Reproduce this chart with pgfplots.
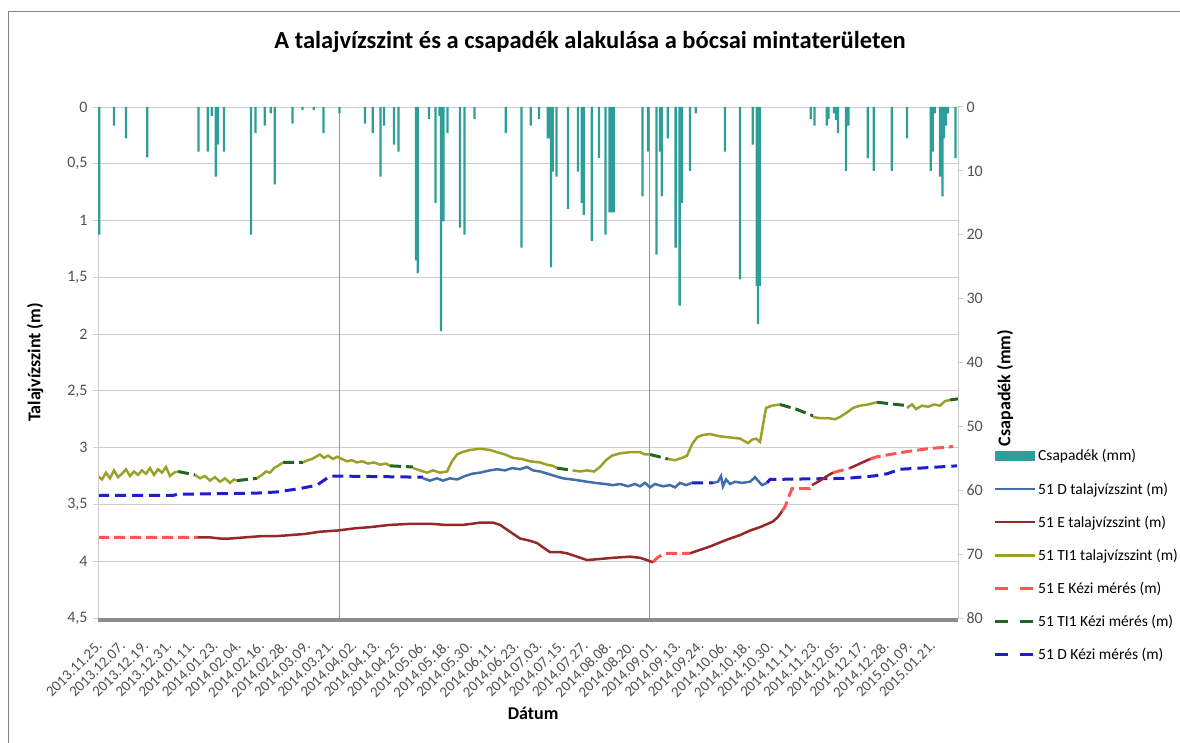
\documentclass[border=0pt]{standalone}
\usepackage{fontspec}
\setmainfont{Carlito}
\usepackage{pgfplots}
\pgfplotsset{compat=1.18}
\definecolor{csap}{RGB}{46,158,153}
\definecolor{dline}{RGB}{64,110,170}
\definecolor{eline}{RGB}{150,40,42}
\definecolor{tline}{RGB}{155,160,40}
\definecolor{ekezi}{RGB}{255,85,85}
\definecolor{tkezi}{RGB}{35,100,35}
\definecolor{dkezi}{RGB}{30,30,205}
\definecolor{gridc}{RGB}{205,205,205}
\definecolor{vlinec}{RGB}{150,150,150}
\definecolor{tickc}{RGB}{80,80,80}
\definecolor{framec}{RGB}{130,130,130}
\definecolor{basec}{RGB}{140,140,140}

\begin{document}
\begin{tikzpicture}[x=1pt,y=1pt]
\useasboundingbox (0,0) rectangle (1180,743);
\draw[framec, line width=1pt] (8,-5) -- (8,731) -- (1190,731);
\node[font=\fontsize{24.5}{29}\selectfont\bfseries] at (590,701) {A talajvízszint és a csapadék alakulása a bócsai mintaterületen};

\begin{axis}[
  at={(98pt,125pt)}, anchor=south west,
  width=860pt, height=511pt, scale only axis,
  xmin=-2, xmax=428, ymin=0, ymax=4.5, y dir=reverse,
  clip mode=individual,
  axis line style={draw=none},
  ytick={0,0.5,...,4.5}, ymajorgrids,
  grid style={gridc, line width=1pt},
  ytick pos=left, tick align=outside, major tick length=5pt,
  ytick style={gridc, line width=1pt},
  xtick={0,11.57,...,416.6},
  xticklabels={2013.11.25.,2013.12.07.,2013.12.19.,2013.12.31.,2014.01.11.,2014.01.23.,2014.02.04.,2014.02.16.,2014.02.28.,2014.03.09.,2014.03.21.,2014.04.02.,2014.04.13.,2014.04.25.,2014.05.06.,2014.05.18.,2014.05.30.,2014.06.11.,2014.06.23.,2014.07.03.,2014.07.15.,2014.07.27.,2014.08.08.,2014.08.20.,2014.09.01.,2014.09.13.,2014.09.24.,2014.10.06.,2014.10.18.,2014.10.30.,2014.11.11.,2014.11.23.,2014.12.05.,2014.12.17.,2014.12.28.,2015.01.09.,2015.01.21.},
  xtick style={draw=none},
  x tick label style={yshift=-18pt, rotate=45, anchor=east, font=\fontsize{15}{17}\selectfont, text=tickc},
  y tick label style={font=\fontsize{16}{18}\selectfont, text=tickc, xshift=-2pt},
  extra x ticks={118.75,273.75}, extra x tick labels={},
  extra x tick style={grid=major, major grid style={vlinec, line width=1pt}, tick style={draw=none}},
  ylabel={Talajvízszint (m)},
  ylabel style={font=\fontsize{18}{21}\selectfont\bfseries, at={(axis description cs:-0.073,0.5)}, anchor=center},
  xlabel={Dátum},
  xlabel style={font=\fontsize{18}{21}\selectfont\bfseries, at={(axis description cs:0.506,-0.186)}, anchor=center},
  unbounded coords=jump,
  /pgf/number format/use comma,
  /pgf/number format/assume math mode=true,
]
% 51 TI1 Kezi meres (green dashed, in the gaps)
\addplot[forget plot, tkezi, line width=3pt, dash pattern=on 11pt off 5pt] coordinates {
(38,3.21)(46.5,3.24) (46.6,nan)
(67.5,3.29)(77.5,3.27) (77.6,nan)
(90.5,3.13)(100.5,3.13) (100.6,nan)
(144,3.16)(155.5,3.17) (155.6,nan)
(227.5,3.18)(235.5,3.20) (235.6,nan)
(274,3.06)(283,3.10) (283.1,nan)
(339,2.62)(347,2.66)(355.5,2.72) (355.6,nan)
(387.5,2.60)(402.5,2.63) (402.6,nan)
(424,2.58)(428,2.57)
};
% 51 D Kezi meres
\addplot[forget plot, dkezi, line width=3pt, dash pattern=on 11pt off 6pt] coordinates {
(-2,3.42)(35.5,3.42)(38,3.41)(77.5,3.40)(87.5,3.39)(99,3.36)(107.5,3.33)(114,3.25)(117.5,3.25)(160.5,3.26) (160.6,nan)
(295,3.31)(305.5,3.31) (305.6,nan)
(332.5,3.31)(334,3.28)(372.5,3.27)(385.5,3.25)(392.5,3.23)(399,3.19)(409,3.18)(427.5,3.16)
};
% 51 E Kezi meres
\addplot[forget plot, ekezi, line width=3pt, dash pattern=on 11pt off 5pt] coordinates {
(-2,3.79)(48,3.79) (48.1,nan)
(275.5,4.01)(277.5,3.97)(281.5,3.93)(294,3.93) (294.1,nan)
(340,3.56)(341.5,3.52)(345,3.36)(354,3.36)(355,3.33) (355.1,nan)
(365.5,3.22)(374,3.18) (374.1,nan)
(384,3.10)(387.5,3.08)(400.5,3.04)(412.5,3.01)(425.5,2.99)
};
% 51 TI1 talajvizszint
\addplot[forget plot, tline, line width=2.5pt] coordinates {
(-2,3.25)(0,3.28)(2,3.22)(4,3.27)(6,3.20)(8,3.26)(10,3.23)(12,3.19)(14,3.25)(16,3.21)(18,3.24)(20,3.20)(22,3.23)(24,3.18)(26,3.24)(28,3.19)(30,3.22)(32,3.17)(34,3.25)(36,3.22)(38,3.21) (38.1,nan)
(46.5,3.24)(49,3.27)(51.5,3.25)(54,3.29)(56.5,3.26)(59,3.30)(61.5,3.27)(64,3.31)(66,3.28)(67.5,3.29) (67.6,nan)
(77.5,3.27)(80,3.24)(82,3.21)(84,3.22)(86,3.18)(88,3.16)(90.5,3.13) (90.6,nan)
(100.5,3.13)(103,3.11)(105,3.10)(107,3.08)(109,3.06)(111,3.09)(113,3.07)(115.5,3.10)(117.5,3.08)(120,3.10)(122.5,3.12)(125,3.11)(127.5,3.13)(130,3.12)(133,3.14)(136,3.13)(139,3.15)(142,3.14)(144,3.16) (144.1,nan)
(155.5,3.18)(159,3.20)(162.5,3.22)(165.5,3.20)(169,3.22)(172.5,3.21)(175,3.12)(177.5,3.06)(180,3.04)(184,3.02)(189,3.01)(194,3.02)(197.5,3.04)(201.5,3.06)(205.5,3.09)(210,3.10)(214,3.12)(219,3.13)(222.5,3.15)(225.5,3.16)(227.5,3.18) (227.6,nan)
(235.5,3.20)(239,3.21)(242.5,3.20)(246,3.21)(249,3.17)(252,3.11)(255,3.07)(259,3.05)(264,3.04)(269,3.04)(271.5,3.06)(274,3.06) (274.1,nan)
(283,3.10)(286.5,3.11)(290,3.09)(292.5,3.07)(295,2.97)(297.5,2.91)(300,2.89)(304,2.88)(309,2.90)(314,2.91)(319,2.92)(323,2.96)(325,2.93)(327,2.92)(329,2.95)(330.5,2.80)(332,2.65)(335,2.63)(339,2.62) (339.1,nan)
(355.5,2.73)(359,2.74)(363,2.74)(366.5,2.75)(369,2.73)(372.5,2.69)(375.5,2.65)(379,2.63)(383,2.62)(387.5,2.60) (387.6,nan)
(402.5,2.65)(405,2.62)(407,2.66)(410,2.63)(413,2.64)(416,2.62)(419,2.63)(421.5,2.59)(424,2.58)
};
% 51 D talajvizszint
\addplot[forget plot, dline, line width=2.5pt] coordinates {
(160.5,3.27)(164,3.29)(167.5,3.27)(170.5,3.29)(174,3.27)(177.5,3.28)(181.5,3.25)(185,3.23)(189,3.22)(194,3.20)(197.5,3.19)(201.5,3.20)(205,3.18)(209,3.19)(212.5,3.17)(215.5,3.20)(219,3.21)(223,3.23)(226.5,3.25)(230.5,3.27)(235,3.28)(239,3.29)(242.5,3.30)(246.5,3.31)(251.5,3.32)(255.5,3.33)(259,3.32)(263,3.34)(266.5,3.32)(269,3.34)(271.5,3.31)(274,3.35)(276.5,3.32)(280.5,3.34)(284,3.33)(286.5,3.35)(289,3.31)(292,3.33)(295,3.31) (295.1,nan)
(305.5,3.31)(308,3.30)(309.5,3.25)(310.5,3.34)(312,3.28)(314,3.32)(316.5,3.30)(320,3.31)(324,3.30)(326.5,3.26)(328,3.29)(330,3.33)(332.5,3.31)
};
% 51 E talajvizszint
\addplot[forget plot, eline, line width=2.5pt] coordinates {
(48,3.79)(54,3.79)(59,3.80)(64,3.80)(71.5,3.79)(79,3.78)(86.5,3.78)(94,3.77)(101.5,3.76)(109,3.74)(117.5,3.73)(126.5,3.71)(134,3.70)(144,3.68)(155.5,3.67)(164,3.67)(171.5,3.68)(180.5,3.68)(185,3.67)(189,3.66)(195.5,3.66)(199,3.68)(204,3.74)(209,3.80)(214,3.82)(217.5,3.84)(221.5,3.89)(224,3.92)(229,3.92)(232.5,3.93)(237.5,3.96)(242.5,3.99)(249,3.98)(255.5,3.97)(264,3.96)(269,3.97)(272.5,3.99)(275.5,4.01) (275.6,nan)
(294,3.93)(299,3.90)(304,3.87)(312.5,3.81)(319,3.77)(324,3.73)(329,3.70)(335.5,3.65)(338,3.61)(340,3.56) (340.1,nan)
(355,3.33)(359,3.29)(362.5,3.25)(365.5,3.22) (365.6,nan)
(374,3.18)(379,3.14)(384,3.10)
};
\draw[gridc, line width=1pt] (axis cs:-2,0) -- (axis cs:-2,4.5);
\draw[basec, line width=4.5pt] ([yshift=-2pt]axis cs:-2,4.5) -- ([yshift=-2pt]axis cs:428,4.5);
\end{axis}

\begin{axis}[
  at={(98pt,125pt)}, anchor=south west,
  width=860pt, height=511pt, scale only axis,
  xmin=-2, xmax=428, ymin=0, ymax=80, y dir=reverse,
  clip mode=individual,
  axis line style={draw=none},
  xtick=\empty,
  ytick={0,10,...,80},
  ytick pos=right, tick align=outside, major tick length=5pt,
  ytick style={gridc, line width=1pt},
  y tick label style={font=\fontsize{16}{18}\selectfont, text=tickc},
  ylabel={Csapadék (mm)},
  ylabel style={font=\fontsize{18}{21}\selectfont\bfseries, at={(axis description cs:1.0547,0.45)}, anchor=center},
  /pgf/number format/assume math mode=true,
  legend style={at={(axis description cs:1.0407,0.334)}, anchor=north west, draw=none, fill=none,
    font=\fontsize{15.5}{18}\selectfont, row sep=16.3pt, inner sep=0pt, cells={anchor=west}},
  legend image code/.code={\draw[#1] (0pt,0pt) -- (40pt,0pt);},
]
\addplot[ybar, bar width=2.3pt, bar shift=0pt, fill=csap, draw=none,
  legend image code/.code={\fill[csap] (0pt,-5pt) rectangle (40pt,5pt);}] coordinates {
(-1.35,20.0)(6,2.9)(12,4.9)(22.6,7.9)(48.2,7.0)(52.9,7.0)(54.9,1.4)(56.9,10.9)(58,5.9)(61,7.0)
(74.5,20.0)(76.7,4.1)(81.4,2.9)(84.4,1.0)(86.4,12.1)(95.2,2.6)(100.2,0.5)(105.9,0.5)(110.7,4.1)(118.7,1.0)
(131.5,2.6)(135.4,4.1)(139.2,10.9)(141,2.9)(146,5.9)(148.2,7.0)(157,24.0)(157.9,26.0)(163.5,1.9)(166.7,15.0)
(168.7,1.4)(169.5,35.1)(170.7,17.9)(172.7,4.1)(179,18.9)(181.2,20.0)(186.2,1.9)(201.9,4.1)(209.7,22.0)(214.4,2.9)
(218.5,1.9)(222.9,4.9)(223.8,4.9)(224.5,25.1)(225.4,10.1)(227.2,10.9)(233,16.0)(238,10.1)(239.9,15.0)(240.9,16.9)
(244.9,21.0)(248.5,8.0)(251.7,20.0)(253.8,16.5)(254.8,16.5)(255.8,16.5)(270.2,14.0)(273,7.0)(277.2,23.1)(279,7.0)
(279.9,14.0)(282.9,4.9)(286.8,22.0)(288.8,31.1)(290,15.0)(294,10.0)(296.9,1.0)(311.5,7.0)(319,27.0)(325.4,5.9)
(327.4,28.0)(328,34.0)(328.8,28.0)(354.4,1.9)(356.2,2.9)(362.4,2.9)(363.2,1.9)(366,1.0)(367,2.0)(368,4.1)
(372,10.0)(373.2,2.9)(382.9,8.0)(385.9,10.0)(394.9,10.0)(402.5,4.9)(414.4,10.0)(415.4,7.0)(416.4,1.0)(419,10.9)
(420.2,14.0)(421,4.9)(422,2.9)(423,1.0)(426.7,8.0)
};
\addlegendentry{Csapadék (mm)}
\addlegendimage{dline, line width=2.5pt}
\addlegendentry{51 D talajvízszint (m)}
\addlegendimage{eline, line width=2.5pt}
\addlegendentry{51 E talajvízszint (m)}
\addlegendimage{tline, line width=2.5pt}
\addlegendentry{51 TI1 talajvízszint (m)}
\addlegendimage{ekezi, line width=3pt, dash pattern=on 13pt off 12pt}
\addlegendentry{51 E Kézi mérés (m)}
\addlegendimage{tkezi, line width=3pt, dash pattern=on 13pt off 12pt}
\addlegendentry{51 TI1 Kézi mérés (m)}
\addlegendimage{dkezi, line width=3pt, dash pattern=on 13pt off 12pt}
\addlegendentry{51 D Kézi mérés (m)}
\draw[gridc, line width=1pt] (axis cs:428,0) -- (axis cs:428,80);
\end{axis}
\end{tikzpicture}
\end{document}
